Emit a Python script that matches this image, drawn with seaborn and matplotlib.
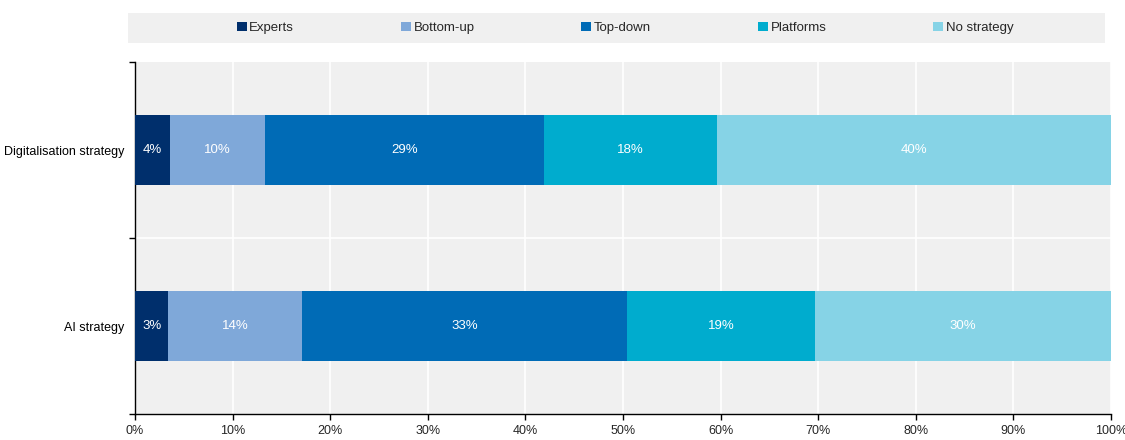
import matplotlib
matplotlib.use("Agg")
import matplotlib.pyplot as plt
import matplotlib.patches as mpatches
import numpy as np
import seaborn as sns

# Share of respondents by strategy approach
categories = ["Digitalisation strategy", "AI strategy"]
series = ["Experts", "Bottom-up", "Top-down", "Platforms", "No strategy"]
experts = [3.6, 3.4]
bottom_up = [9.7, 13.7]
top_down = [28.6, 33.3]
platforms = [17.7, 19.3]
no_strategy = [40.4, 30.3]
x_ticks = [0, 10, 20, 30, 40, 50, 60, 70, 80, 90, 100]
x_tick_labels = ["0%", "10%", "20%", "30%", "40%", "50%", "60%", "70%", "80%", "90%", "100%"]

colors = ["#002f6c", "#7fa8d9", "#006bb6", "#00acce", "#86d3e6"]
values = [experts, bottom_up, top_down, platforms, no_strategy]

sns.set_style("white")
plt.rcParams["font.family"] = ["Liberation Sans", "DejaVu Sans"]
plt.rcParams["font.size"] = 9

fig = plt.figure(figsize=(11.25, 4.4), dpi=100)
ax = fig.add_axes([135 / 1125, 1 - 414 / 440, 976 / 1125, 352 / 440])
ax.set_facecolor("#f0f0f0")

# Stacked bars: draw cumulative totals from the outermost segment inward
vals = np.array(values)
cum = np.cumsum(vals, axis=0)
handles = []
for i in range(len(series) - 1, -1, -1):
    sns.barplot(x=list(cum[i]), y=categories, order=categories, orient="h",
                color=colors[i], saturation=1, width=0.4, ax=ax, zorder=3,
                linewidth=0, edgecolor="none")
for i in range(len(series)):
    handles.append(mpatches.Patch(color=colors[i], label=series[i], linewidth=0))

# Segment value labels
for i in range(len(series)):
    for j in range(len(categories)):
        start = cum[i][j] - vals[i][j]
        ax.text(start + vals[i][j] / 2, j, f"{vals[i][j]:.0f}%", color="white",
                ha="center", va="center", fontsize=9.5, zorder=4)

ax.set_xlim(0, 100)
ax.set_ylim(1.5, -0.5)
ax.set_xticks(x_ticks)
ax.set_xticklabels(x_tick_labels)
ax.set_xlabel("")
ax.set_ylabel("")
ax.set_yticks([0, 1])
ax.set_yticks([-0.5, 0.5, 1.5], minor=True)
ax.tick_params(axis="y", which="major", length=0, pad=8, labelsize=9, colors="#000000")
ax.tick_params(axis="y", which="minor", length=4, width=1, color="#000000", direction="out", left=True)
ax.tick_params(axis="x", which="major", length=4, width=1, color="#000000", direction="out",
               bottom=True, pad=4, labelsize=9)

ax.grid(False)
for xv in x_ticks[1:]:
    ax.axvline(xv, color="white", lw=1.2, zorder=1)
ax.axhline(0.5, color="white", lw=1.2, zorder=1)

for s in ["top", "right"]:
    ax.spines[s].set_visible(False)
for s in ["left", "bottom"]:
    ax.spines[s].set_visible(True)
    ax.spines[s].set_color("#000000")
    ax.spines[s].set_linewidth(1)

# Legend band at the top
band = mpatches.Rectangle((128 / 1125, 1 - 43 / 440), 977 / 1125, 30 / 440,
                          transform=fig.transFigure, facecolor="#f0f0f0",
                          edgecolor="none", zorder=0)
fig.patches.append(band)
fig.legend(handles=handles, loc="center", bbox_to_anchor=(625 / 1125, 1 - 28 / 440),
           ncol=5, frameon=False, handlelength=0.75, handleheight=0.75,
           handletextpad=0.2, columnspacing=8.1, fontsize=9.5)

fig.savefig("out.png", dpi=100)
